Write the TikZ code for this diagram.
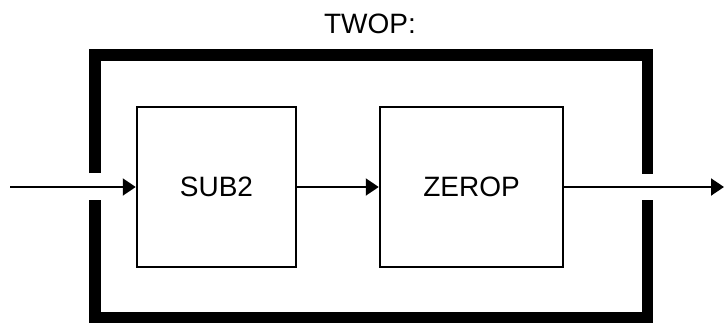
\documentclass[tikz,border=0pt]{standalone}
\usepackage{fontspec}
\setmainfont{Liberation Sans}
\usetikzlibrary{arrows.meta}
\begin{document}
\begin{tikzpicture}[x=1pt,y=-1pt,
  blockbox/.style={draw, line width=2.5pt, inner sep=0pt, font=\fontsize{28}{30}\selectfont},
  frameline/.style={line width=11.5pt, line cap=butt, line join=miter},
  flow/.style={line width=2pt, -{Triangle[length=13pt,width=17pt]}},
  title/.style={font=\fontsize{28}{30}\selectfont, inner sep=0pt}]
\useasboundingbox (0,0) rectangle (724,322);
\node[title, anchor=base] (twop) at (370,33) {TWOP:};
\draw[frameline] (95,173) -- (95,55) -- (647.5,55) -- (647.5,174);
\draw[frameline] (95,200) -- (95,318) -- (647.5,318) -- (647.5,200);
\node[blockbox, minimum width=159pt, minimum height=160pt] (sub2) at (216.5,187) {SUB2};
\node[blockbox, minimum width=183pt, minimum height=160pt] (zerop) at (471.5,187) {ZEROP};
\coordinate (in) at (10,187);
\coordinate (out) at (724,187);
\draw[flow] (in) -- (sub2.west);
\draw[flow] (sub2.east) -- (zerop.west);
\draw[flow] (zerop.east) -- (out);
\end{tikzpicture}
\end{document}
